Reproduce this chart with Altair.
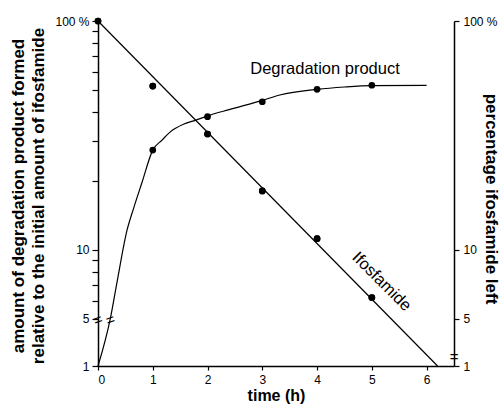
import altair as alt
import pandas as pd

# Ifosfamide measured points (percentage left)
ifos_t = [0, 1, 2, 3, 4, 5]
ifos_v = [100, 52, 32.1, 18.1, 11.2, 6.2]
# Ifosfamide fitted straight line (end points)
ifos_line_t = [0, 6.2]
ifos_line_v = [100, 1]
# Degradation product measured points
deg_t = [1, 2, 3, 4, 5]
deg_v = [27.3, 38.2, 44.4, 50.3, 52.4]
# Degradation product fitted curve
curve_t = [0, 0.224, 0.35, 0.53, 0.65, 0.8, 1.0, 1.17, 1.32, 1.56, 1.8, 2.0, 2.41, 3.0, 3.32, 4.0, 4.5, 5.0, 6.0]
curve_v = [1, 5, 7.3, 12.2, 15.2, 19.6, 27.3, 30.2, 32.8, 35.4, 37.0, 38.5, 41.1, 45.0, 47.5, 50.3, 51.5, 52.2, 52.3]

left_ticks = [1, 5, 6, 7, 8, 9, 10, 20, 30, 40, 50, 60, 70, 80, 90, 100]
right_ticks = [1, 5, 10, 100]
x_ticks = [0, 1, 2, 3, 4, 5, 6]

labels_text = ["Degradation product", "Ifosfamide"]
labels_t = [4.145, 5.18]
labels_v = [61.7, 7.28]
labels_angle = [0, 45]

# axis-break marks
brk_left_t = [0, 0.225]
brk_left_v = [4.83, 4.85]
brk_right_t = [6.5]
brk_right_v = [1.38]

FONT = "Liberation Sans"
W, H = 356, 345

ifos_df = pd.DataFrame({"t": ifos_t, "v": ifos_v})
ifos_line_df = pd.DataFrame({"t": ifos_line_t, "v": ifos_line_v})
deg_df = pd.DataFrame({"t": deg_t, "v": deg_v})
curve_df = pd.DataFrame({"t": curve_t, "v": curve_v})
lab_df = pd.DataFrame({"text": labels_text, "t": labels_t, "v": labels_v, "a": labels_angle})
brk_l_df = pd.DataFrame({"t": brk_left_t, "v": brk_left_v})
brk_r_df = pd.DataFrame({"t": brk_right_t, "v": brk_right_v})

yscale = alt.Scale(type="log", domain=[1, 5, 100], range=[H, 297.9, 0], nice=False)
xscale = alt.Scale(domain=[0, 6.5], nice=False, zero=False)

xaxis = alt.Axis(values=x_ticks, format="d", tickSize=4, labelPadding=4,
                 title="time (h)", titleFontSize=16, titlePadding=2,
                 domainWidth=1.5, tickWidth=1.2)
X = alt.X("t:Q", scale=xscale, axis=xaxis)

left_axis = alt.Axis(
    orient="left", values=left_ticks,
    labelExpr="datum.value == 100 ? '100 %' : ((datum.value == 1 || datum.value == 5 || datum.value == 10) ? '' + datum.value : '')",
    tickSize=6, labelPadding=3, domainWidth=1.5, tickWidth=1.2,
    title=["amount of degradation product formed", "relative to the initial amount of ifosfamide"],
    titleFontSize=17, titleLineHeight=20, titleAngle=270, titleX=-80, titleY=H / 2 + 2,
    titleAlign="center", titleBaseline="middle",
)
YL = alt.Y("v:Q", scale=yscale, axis=left_axis)

right_axis = alt.Axis(
    orient="right", values=right_ticks,
    labelExpr="datum.value == 100 ? '100 %' : '' + datum.value",
    tickSize=5, labelPadding=4, domainWidth=1.5, tickWidth=1.2,
    title="percentage ifosfamide left", titleFontSize=17, titleAngle=90,
    titleX=36, titleY=H / 2 + 5, titleAlign="center", titleBaseline="middle",
)
YR = alt.Y("v:Q", scale=yscale, axis=right_axis)

ifos_line = alt.Chart(ifos_line_df).mark_line(color="black", strokeWidth=1.2).encode(x=X, y=YL)
ifos_pts = alt.Chart(ifos_df).mark_circle(color="black", size=45, opacity=1).encode(x=X, y=YL)
curve = alt.Chart(curve_df).mark_line(color="black", strokeWidth=1.2, interpolate="monotone").encode(x=X, y=YL)
deg_pts = alt.Chart(deg_df).mark_circle(color="black", size=45, opacity=1).encode(x=X, y=YL)
labels = alt.Chart(lab_df).mark_text(font=FONT, fontSize=16.5, color="black", align="center", baseline="middle").encode(
    x=X, y=YL, text="text:N", angle=alt.Angle("a:Q", scale=None))
brk_l = alt.Chart(brk_l_df).mark_text(text="=", font=FONT, fontSize=15, angle=340, color="black",
                                      align="center", baseline="middle").encode(x=X, y=YL)

left_group = alt.layer(ifos_line, curve, ifos_pts, deg_pts, labels, brk_l)

right_group = alt.layer(
    alt.Chart(ifos_df).mark_circle(color="black", size=45, opacity=1).encode(x=X, y=YR),
    alt.Chart(brk_r_df).mark_text(text="=", font=FONT, fontSize=15, color="black",
                                  align="center", baseline="middle").encode(x=X, y=YR),
)

chart = alt.layer(left_group, right_group).resolve_scale(y="independent").properties(
    width=W, height=H,
    autosize=alt.AutoSizeParams(type="none"),
    padding={"left": 98, "top": 21, "right": 504 - 98 - W, "bottom": 405 - 21 - H},
).configure_axis(
    grid=False, labelFont=FONT, labelFontSize=12, labelColor="black",
    titleFont=FONT, titleFontWeight="bold", titleColor="black",
    domainColor="black", tickColor="black",
).configure_view(stroke=None)

chart.save("out.html", embed_options={"renderer": "svg", "actions": False})
